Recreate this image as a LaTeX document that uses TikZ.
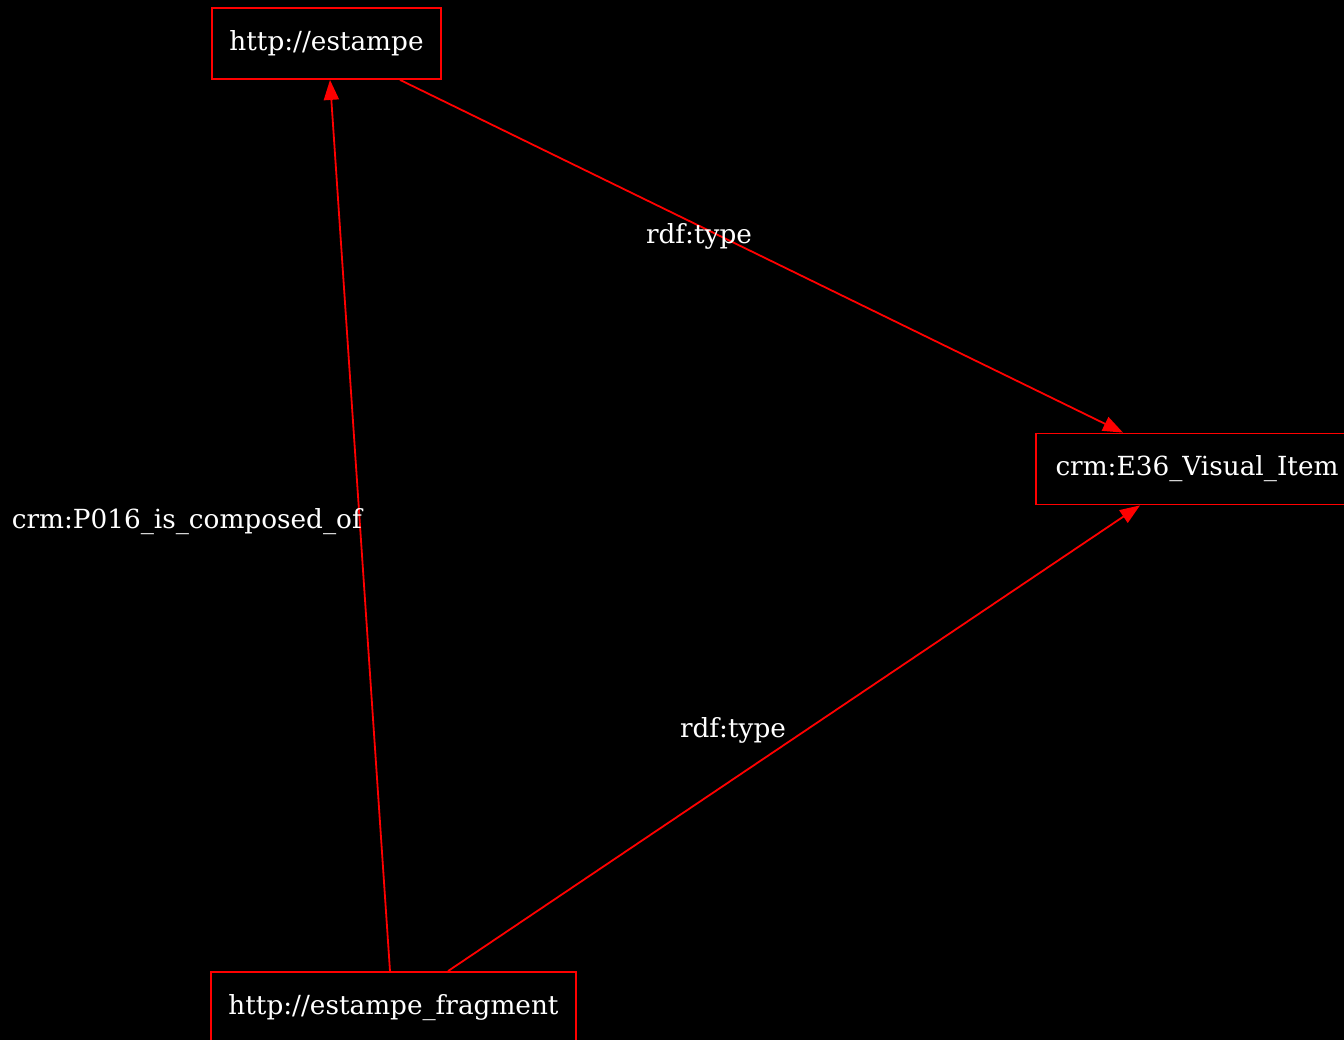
\documentclass[tikz,border=0pt]{standalone}
\usepackage{fontspec}
\setmainfont{DejaVu Serif}
\usetikzlibrary{arrows.meta}
\begin{document}
\begin{tikzpicture}[x=1pt,y=-1pt,
  every node/.style={font=\fontsize{26.3}{31}\selectfont, text=white},
  box/.style={draw=red, line width=1.8pt, fill=black, minimum height=71pt, inner sep=0pt},
  edge/.style={draw=red, line width=1.8pt, -{Triangle[length=20pt,width=15pt]}},
  lbl/.style={inner sep=0pt}]
\fill[black] (0,0) rectangle (1344,1040);
\useasboundingbox (0,0) rectangle (1344,1040);
\clip (0,0) rectangle (1344,1040);
\node[box, minimum width=229pt] (est) at (326.5,43.5) {http://estampe};
\node[box, minimum width=322pt] (e36) at (1197,469) {crm:E36\_Visual\_Item};
\node[box, minimum width=365pt] (frag) at (393.5,1007.5) {http://estampe\_fragment};
\draw[edge] ([xshift=-3.5pt]frag.north) -- ([xshift=3.5pt]est.south);
\draw[edge] ([xshift=73.5pt]est.south) -- ([xshift=-74pt]e36.north);
\draw[edge] ([xshift=54.5pt]frag.north) -- ([xshift=-57pt]e36.south);
\node[lbl, anchor=east] (l1) at (362,522) {crm:P016\_is\_composed\_of};
\node[lbl] (l2) at (699,236) {rdf:type};
\node[lbl] (l3) at (733,730) {rdf:type};
\end{tikzpicture}
\end{document}
